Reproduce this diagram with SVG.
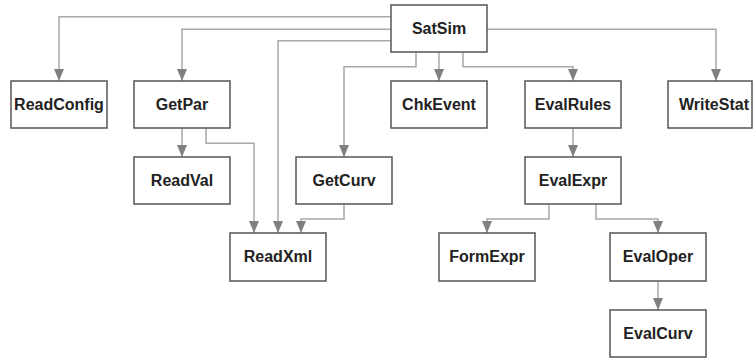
<svg xmlns="http://www.w3.org/2000/svg" width="754" height="358" viewBox="0 0 754 358">
<style>
.box{fill:#fff;stroke:#555;stroke-width:1.5}
.lbl{font-family:"Liberation Sans",Arial,sans-serif;font-weight:bold;font-size:16px;fill:#222;text-anchor:middle}
.edge{fill:none;stroke:#a8a8a8;stroke-width:1.5;marker-end:url(#arr)}
</style>
<defs>
<marker id="arr" viewBox="0 0 12 10" refX="12" refY="5" markerWidth="12" markerHeight="10" markerUnits="userSpaceOnUse" orient="auto">
<path d="M0,0 L12,5 L0,10 z" fill="#808080"/>
</marker>
</defs>
<rect width="754" height="358" fill="#fff"/>
<g id="connectors">
<path class="edge" d="M391,16.7 H59 V81"/>
<path class="edge" d="M391,29.3 H182 V81"/>
<path class="edge" d="M391,40.7 H278 V233"/>
<path class="edge" d="M416,52 V66.7 H344 V157"/>
<path class="edge" d="M439,52 V81"/>
<path class="edge" d="M463,52 V66.7 H573 V81"/>
<path class="edge" d="M487,29.3 H716 V81"/>
<path class="edge" d="M182,128 V157"/>
<path class="edge" d="M206,128 V143.3 H254 V233"/>
<path class="edge" d="M344,204 V219 H301 V233"/>
<path class="edge" d="M573,128 V157"/>
<path class="edge" d="M549,204 V219 H487 V233"/>
<path class="edge" d="M596,204 V219 H658 V233"/>
<path class="edge" d="M658,281 V310"/>
</g>
<g id="SatSim"><rect class="box" x="391" y="5" width="96" height="47"/><text class="lbl" x="439" y="34">SatSim</text></g>
<g id="ReadConfig"><rect class="box" x="11" y="81" width="96" height="47"/><text class="lbl" x="59" y="110">ReadConfig</text></g>
<g id="GetPar"><rect class="box" x="134" y="81" width="96" height="47"/><text class="lbl" x="182" y="110">GetPar</text></g>
<g id="ChkEvent"><rect class="box" x="391" y="81" width="96" height="47"/><text class="lbl" x="439" y="110">ChkEvent</text></g>
<g id="EvalRules"><rect class="box" x="525" y="81" width="96" height="47"/><text class="lbl" x="573" y="110">EvalRules</text></g>
<g id="WriteStat"><rect class="box" x="668" y="81" width="84" height="47"/><text class="lbl" x="714" y="110">WriteStat</text></g>
<g id="ReadVal"><rect class="box" x="134" y="157" width="96" height="47"/><text class="lbl" x="182" y="186">ReadVal</text></g>
<g id="GetCurv"><rect class="box" x="296" y="157" width="96" height="47"/><text class="lbl" x="344" y="186">GetCurv</text></g>
<g id="EvalExpr"><rect class="box" x="525" y="157" width="96" height="47"/><text class="lbl" x="573" y="186">EvalExpr</text></g>
<g id="ReadXml"><rect class="box" x="230" y="233" width="96" height="48"/><text class="lbl" x="278" y="262">ReadXml</text></g>
<g id="FormExpr"><rect class="box" x="439" y="233" width="96" height="48"/><text class="lbl" x="487" y="262">FormExpr</text></g>
<g id="EvalOper"><rect class="box" x="610" y="233" width="96" height="48"/><text class="lbl" x="658" y="262">EvalOper</text></g>
<g id="EvalCurv"><rect class="box" x="610" y="310" width="96" height="47"/><text class="lbl" x="658" y="339">EvalCurv</text></g>
</svg>
